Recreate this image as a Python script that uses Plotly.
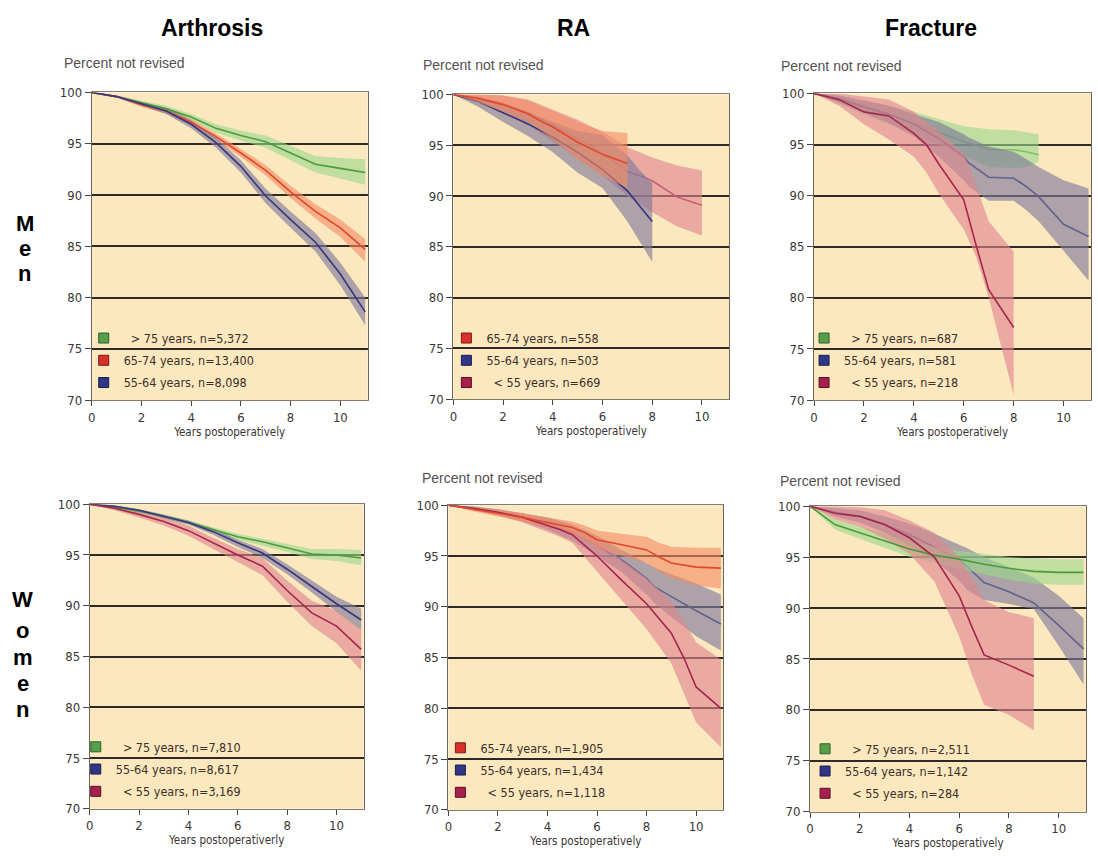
import plotly.graph_objects as go

# ---------------- data ----------------
YEARS_0_11 = [0, 1, 2, 3, 4, 5, 6, 7, 8, 9, 10, 11]

# Men - Arthrosis
MA_GT75_X = YEARS_0_11
MA_GT75 = [100, 99.6, 99.0, 98.4, 97.6, 96.5, 95.8, 95.2, 94.1, 93.0, 92.6, 92.2]
MA_GT75_LO = [100, 99.5, 98.8, 98.1, 97.3, 96.1, 95.3, 94.6, 93.4, 92.2, 91.6, 91.0]
MA_GT75_HI = [100, 99.7, 99.2, 98.7, 97.9, 96.9, 96.3, 95.8, 94.8, 93.8, 93.6, 93.5]
MA_6574_X = YEARS_0_11
MA_6574 = [100, 99.6, 98.8, 98.2, 97.1, 95.7, 94.1, 92.4, 90.3, 88.4, 86.8, 84.7]
MA_6574_LO = [100, 99.5, 98.6, 97.9, 96.8, 95.4, 93.7, 91.9, 89.7, 87.7, 85.9, 83.5]
MA_6574_HI = [100, 99.7, 99.0, 98.5, 97.4, 96.0, 94.5, 92.9, 90.9, 89.1, 87.6, 85.7]
MA_5564_X = YEARS_0_11
MA_5564 = [100, 99.6, 98.9, 98.2, 96.9, 95.1, 92.8, 89.9, 87.6, 85.4, 82.3, 78.6]
MA_5564_LO = [100, 99.5, 98.7, 97.9, 96.5, 94.6, 92.2, 89.2, 86.8, 84.5, 81.2, 77.3]
MA_5564_HI = [100, 99.7, 99.1, 98.5, 97.3, 95.6, 93.4, 90.6, 88.4, 86.3, 83.4, 80.0]

# Men - RA
MR_6574_X = [0, 1, 2, 3, 3.5, 4, 5, 5.5, 6, 7]
MR_6574 = [100, 99.6, 99.0, 98.1, 97.4, 96.8, 95.3, 94.7, 94.1, 93.2]
MR_6574_LO = [100, 99.2, 98.3, 97.3, 96.5, 95.6, 93.6, 92.8, 92.0, 90.8]
MR_6574_HI = [100, 100, 99.9, 99.4, 98.9, 98.4, 97.3, 96.8, 96.4, 96.2]
MR_5564_X = [0, 1, 2, 3, 4, 5, 6, 7, 7.5, 8]
MR_5564 = [100, 99.3, 98.2, 97.1, 95.8, 94.3, 92.6, 90.5, 89.0, 87.5]
MR_5564_LO = [100, 98.8, 97.3, 95.9, 94.3, 92.3, 90.8, 87.5, 85.5, 83.5]
MR_5564_HI = [100, 99.7, 99.0, 98.2, 97.3, 96.4, 96.0, 94.0, 92.5, 91.3]
MR_LT55_X = [0, 1, 2, 3, 4, 5, 6, 7, 7.5, 8, 9, 10]
MR_LT55 = [100, 99.7, 99.1, 98.2, 97.0, 95.6, 94.2, 92.4, 92.0, 91.5, 89.9, 89.1]
MR_LT55_LO = [100, 99.2, 98.2, 97.0, 95.4, 93.7, 92.0, 90.0, 89.2, 88.4, 87.0, 86.1]
MR_LT55_HI = [100, 100, 99.9, 99.5, 98.5, 97.5, 96.3, 94.8, 94.3, 93.8, 93.0, 92.5]

# Men - Fracture
MF_GT75_X = [0, 1, 2, 3, 4, 5, 6, 7, 8, 8.5, 9]
MF_GT75 = [100, 99.4, 98.6, 97.9, 97.1, 96.2, 95.3, 94.5, 94.5, 94.3, 94.0]
MF_GT75_LO = [100, 99.0, 97.9, 97.0, 96.0, 95.0, 93.9, 92.8, 92.7, 92.8, 93.3]
MF_GT75_HI = [100, 99.8, 99.3, 98.8, 98.2, 97.5, 96.8, 96.5, 96.4, 96.2, 96.0]
MF_5564_X = [0, 1, 2, 3, 4, 5, 6, 6.2, 7, 8, 8.5, 9, 10, 11]
MF_5564 = [100, 99.5, 98.7, 98.0, 97.0, 95.6, 93.8, 93.2, 91.8, 91.7, 90.9, 89.9, 87.2, 86.0]
MF_5564_LO = [100, 99.1, 98.1, 97.1, 95.8, 93.8, 91.5, 90.9, 89.5, 89.5, 88.6, 87.5, 84.6, 81.7]
MF_5564_HI = [100, 99.8, 99.3, 98.8, 98.0, 97.2, 96.0, 95.7, 94.8, 94.3, 93.6, 92.8, 91.5, 90.7]
MF_LT55_X = [0, 1, 2, 3, 4, 4.5, 5, 6, 6.5, 7, 8]
MF_LT55 = [100, 99.4, 98.2, 97.8, 96.1, 95.0, 93.1, 89.6, 85.1, 80.8, 77.1]
MF_LT55_LO = [100, 98.8, 97.0, 95.5, 93.8, 92.3, 90.2, 86.7, 84.0, 80.0, 70.5]
MF_LT55_HI = [100, 100, 99.7, 99.4, 98.2, 97.2, 96.3, 94.1, 91.0, 87.5, 84.5]

# Women - Arthrosis
WA_GT75_X = YEARS_0_11
WA_GT75 = [100, 99.7, 99.3, 98.8, 98.2, 97.5, 96.8, 96.3, 95.7, 95.1, 95.0, 94.7]
WA_GT75_LO = [100, 99.6, 99.1, 98.6, 98.0, 97.2, 96.5, 95.9, 95.3, 94.6, 94.4, 94.0]
WA_GT75_HI = [100, 99.8, 99.5, 99.0, 98.4, 97.7, 97.1, 96.6, 96.1, 95.6, 95.6, 95.5]
WA_5564_X = YEARS_0_11
WA_5564 = [100, 99.8, 99.4, 98.8, 98.2, 97.3, 96.2, 95.2, 93.6, 91.9, 90.2, 88.6]
WA_5564_LO = [100, 99.7, 99.3, 98.6, 98.0, 97.0, 95.8, 94.7, 93.1, 91.3, 89.4, 87.6]
WA_5564_HI = [100, 99.9, 99.5, 99.0, 98.4, 97.6, 96.5, 95.6, 94.1, 92.5, 90.9, 89.7]
WA_LT55_X = YEARS_0_11
WA_LT55 = [100, 99.6, 99.0, 98.3, 97.4, 96.2, 95.0, 93.9, 91.5, 89.3, 88.0, 85.7]
WA_LT55_LO = [100, 99.4, 98.7, 97.9, 96.9, 95.6, 94.3, 93.0, 90.4, 88.0, 86.3, 83.6]
WA_LT55_HI = [100, 99.8, 99.3, 98.7, 97.9, 96.7, 95.6, 94.7, 92.5, 90.5, 89.5, 87.6]

# Women - RA
WR_6574_X = [0, 1, 2, 3, 4, 5, 5.5, 6, 7, 8, 8.5, 9, 10, 11]
WR_6574 = [100, 99.6, 99.2, 98.8, 98.3, 97.8, 97.3, 96.6, 96.1, 95.6, 94.9, 94.3, 93.9, 93.8]
WR_6574_LO = [100, 99.4, 98.9, 98.4, 97.8, 97.2, 96.6, 95.8, 95.0, 94.3, 93.5, 92.8, 92.1, 91.8]
WR_6574_HI = [100, 99.8, 99.5, 99.2, 98.8, 98.4, 98.0, 97.5, 97.2, 96.9, 96.3, 95.9, 95.8, 95.8]
WR_5564_X = [0, 1, 2, 3, 4, 5, 6, 7, 8, 8.3, 9, 10, 11]
WR_5564 = [100, 99.7, 99.3, 98.8, 98.2, 97.3, 96.0, 94.6, 92.8, 92.0, 91.0, 89.6, 88.3]
WR_5564_LO = [100, 99.5, 99.0, 98.4, 97.6, 96.5, 95.0, 93.4, 91.2, 90.4, 89.0, 87.1, 85.7]
WR_5564_HI = [100, 99.9, 99.6, 99.2, 98.8, 98.1, 97.0, 95.6, 94.3, 93.9, 93.2, 92.3, 91.2]
WR_LT55_X = [0, 1, 2, 3, 4, 4.5, 5, 6, 7, 8, 9, 9.5, 10, 11]
WR_LT55 = [100, 99.7, 99.3, 98.8, 98.0, 97.6, 97.1, 95.0, 92.6, 90.3, 87.4, 85.0, 82.1, 80.0]
WR_LT55_LO = [100, 99.5, 99.0, 98.3, 97.4, 96.9, 96.3, 93.5, 90.6, 87.8, 84.4, 81.5, 78.6, 76.2]
WR_LT55_HI = [100, 99.8, 99.6, 99.2, 98.5, 98.2, 97.9, 96.6, 94.6, 92.8, 90.5, 88.6, 86.5, 84.8]

# Women - Fracture
WF_GT75_X = YEARS_0_11
WF_GT75 = [100, 98.2, 97.4, 96.6, 95.8, 95.2, 94.8, 94.3, 93.9, 93.6, 93.5, 93.5]
WF_GT75_LO = [100, 97.7, 96.8, 95.9, 95.0, 94.4, 93.9, 93.3, 92.8, 92.4, 92.3, 92.3]
WF_GT75_HI = [100, 98.7, 98.0, 97.3, 96.6, 96.0, 95.6, 95.3, 95.0, 94.9, 94.8, 94.8]
WF_5564_X = [0, 1, 2, 3, 4, 5, 6, 6.3, 7, 8, 9, 10, 11]
WF_5564 = [100, 99.4, 99.0, 98.2, 97.2, 96.0, 94.8, 94.1, 92.5, 91.6, 90.5, 88.3, 86.0]
WF_5564_LO = [100, 99.0, 98.4, 97.4, 96.1, 94.7, 92.7, 91.8, 90.8, 90.4, 89.9, 86.3, 82.5]
WF_5564_HI = [100, 99.8, 99.6, 99.0, 98.3, 97.3, 96.2, 95.9, 95.0, 94.0, 93.0, 91.2, 89.0]
WF_LT55_X = [0, 1, 2, 3, 4, 5, 6, 6.5, 7, 8, 9]
WF_LT55 = [100, 99.3, 99.0, 98.2, 96.9, 95.0, 91.2, 88.2, 85.4, 84.4, 83.3]
WF_LT55_LO = [100, 98.7, 98.0, 96.8, 95.3, 92.6, 87.2, 83.5, 80.5, 79.5, 78.0]
WF_LT55_HI = [100, 100, 99.9, 99.6, 98.6, 97.4, 95.0, 93.0, 90.8, 89.6, 89.0]

# Labels
COLUMN_TITLES = ["Arthrosis", "RA", "Fracture"]
ROW_TITLES = ["Men", "Women"]
Y_TICKS = [70, 75, 80, 85, 90, 95, 100]
Y_GRID = [75, 80, 85, 90, 95]
X_TICKS = [0, 2, 4, 6, 8, 10]

LEG_MA = ["\u00a0\u00a0> 75 years, n=5,372", "65-74 years, n=13,400", "55-64 years, n=8,098"]
LEG_MR = ["65-74 years, n=558", "55-64 years, n=503", "\u00a0\u00a0< 55 years, n=669"]
LEG_MF = ["\u00a0\u00a0> 75 years, n=687", "55-64 years, n=581", "\u00a0\u00a0< 55 years, n=218"]
LEG_WA = ["\u00a0\u00a0> 75 years, n=7,810", "55-64 years, n=8,617", "\u00a0\u00a0< 55 years, n=3,169"]
LEG_WR = ["65-74 years, n=1,905", "55-64 years, n=1,434", "\u00a0\u00a0< 55 years, n=1,118"]
LEG_WF = ["\u00a0\u00a0> 75 years, n=2,511", "55-64 years, n=1,142", "\u00a0\u00a0< 55 years, n=284"]

X_TITLES = ["Years postoperatively", "Years postoperatively", "Years postoperatively",
            "Years postoperativerly", "Years postoperatively", "Years postoperatively"]

# ---------------- styles ----------------
STYLE = {
    "gt75": dict(line="#4c9a3e", fill="rgba(153,217,138,0.62)", sw="#55a04a", swl="#2e5e28"),
    "6574": dict(line="#e2472b", fill="rgba(242,140,100,0.62)", sw="#d8302a", swl="#7a1a15"),
    "5564": dict(line="#36367f", fill="rgba(126,122,154,0.64)", sw="#2f3688", swl="#1a1d4a"),
    "lt55": dict(line="#a5264c", fill="rgba(224,132,142,0.62)", sw="#a81f4d", swl="#5a1028"),
}

NARROW = "Liberation Sans Narrow, DejaVu Sans Condensed, Arial Narrow, sans-serif"
ARIAL = "Liberation Sans, Arial, Helvetica, sans-serif"
BG = "#fbe8bf"

W, H = 1098, 865

# panel rectangles in pixels: left, top, right, bottom
RECTS = [(88, 87, 365, 400), (451, 89, 728, 399), (813, 88, 1091, 400),
         (86, 506, 361, 816), (446, 507, 722, 817), (809, 508, 1086, 819)]

PANELS = [
    dict(series=[("gt75", MA_GT75_X, MA_GT75, MA_GT75_LO, MA_GT75_HI, LEG_MA[0]),
                 ("6574", MA_6574_X, MA_6574, MA_6574_LO, MA_6574_HI, LEG_MA[1]),
                 ("5564", MA_5564_X, MA_5564, MA_5564_LO, MA_5564_HI, LEG_MA[2])],
         draw=["band:gt75", "band:6574", "band:5564", "line:gt75", "line:6574", "line:5564"]),
    dict(series=[("6574", MR_6574_X, MR_6574, MR_6574_LO, MR_6574_HI, LEG_MR[0]),
                 ("5564", MR_5564_X, MR_5564, MR_5564_LO, MR_5564_HI, LEG_MR[1]),
                 ("lt55", MR_LT55_X, MR_LT55, MR_LT55_LO, MR_LT55_HI, LEG_MR[2])],
         draw=["line:lt55", "band:lt55", "band:5564", "line:5564", "band:6574", "line:6574"]),
    dict(series=[("gt75", MF_GT75_X, MF_GT75, MF_GT75_LO, MF_GT75_HI, LEG_MF[0]),
                 ("5564", MF_5564_X, MF_5564, MF_5564_LO, MF_5564_HI, LEG_MF[1]),
                 ("lt55", MF_LT55_X, MF_LT55, MF_LT55_LO, MF_LT55_HI, LEG_MF[2])],
         draw=["line:gt75", "band:gt75", "line:5564", "band:5564", "band:lt55", "line:lt55"]),
    dict(series=[("gt75", WA_GT75_X, WA_GT75, WA_GT75_LO, WA_GT75_HI, LEG_WA[0]),
                 ("5564", WA_5564_X, WA_5564, WA_5564_LO, WA_5564_HI, LEG_WA[1]),
                 ("lt55", WA_LT55_X, WA_LT55, WA_LT55_LO, WA_LT55_HI, LEG_WA[2])],
         draw=["band:gt75", "band:5564", "band:lt55", "line:gt75", "line:5564", "line:lt55"]),
    dict(series=[("6574", WR_6574_X, WR_6574, WR_6574_LO, WR_6574_HI, LEG_WR[0]),
                 ("5564", WR_5564_X, WR_5564, WR_5564_LO, WR_5564_HI, LEG_WR[1]),
                 ("lt55", WR_LT55_X, WR_LT55, WR_LT55_LO, WR_LT55_HI, LEG_WR[2])],
         draw=["line:5564", "band:5564", "band:lt55", "band:6574", "line:lt55", "line:6574"]),
    dict(series=[("gt75", WF_GT75_X, WF_GT75, WF_GT75_LO, WF_GT75_HI, LEG_WF[0]),
                 ("5564", WF_5564_X, WF_5564, WF_5564_LO, WF_5564_HI, LEG_WF[1]),
                 ("lt55", WF_LT55_X, WF_LT55, WF_LT55_LO, WF_LT55_HI, LEG_WF[2])],
         draw=["line:5564", "band:5564", "band:gt75", "band:lt55", "line:gt75", "line:lt55"]),
]

# legend boxes: left, top in pixels
LEG_POS = [(80, 322), (444, 322), (803, 322), (72, 738), (438, 739), (804, 740)]

fig = go.Figure()

for i, p in enumerate(PANELS):
    n = i + 1
    xa = "x" if n == 1 else f"x{n}"
    ya = "y" if n == 1 else f"y{n}"
    leg = "legend" if n == 1 else f"legend{n}"
    ser = {s[0]: s for s in p["series"]}

    for item in p["draw"]:
        kind, key = item.split(":")
        k, xs, m, lo, hi, name = ser[key]
        st = STYLE[k]
        if kind == "line":
            fig.add_trace(go.Scatter(x=xs, y=m, mode="lines", xaxis=xa, yaxis=ya,
                                     line=dict(color=st["line"], width=1.6),
                                     showlegend=False, hoverinfo="skip"))
        else:
            fig.add_trace(go.Scatter(x=xs, y=hi, mode="lines", xaxis=xa, yaxis=ya,
                                     line=dict(width=0, color=st["fill"]),
                                     showlegend=False, hoverinfo="skip"))
            fig.add_trace(go.Scatter(x=xs, y=lo, mode="lines", xaxis=xa, yaxis=ya,
                                     line=dict(width=0, color=st["fill"]),
                                     fill="tonexty", fillcolor=st["fill"],
                                     showlegend=False, hoverinfo="skip"))

    # legend entries
    for j, (k, xs, m, lo, hi, name) in enumerate(p["series"]):
        fig.add_trace(go.Scatter(x=[None], y=[None], mode="markers", xaxis=xa, yaxis=ya,
                                 marker=dict(symbol="square", size=10, color=STYLE[k]["sw"],
                                             line=dict(color=STYLE[k]["swl"], width=1)),
                                 name=name, legend=leg, legendgroup=f"{n}_{j}",
                                 showlegend=True))

    l, t, r, b = RECTS[i]
    fig.layout[f"xaxis{n if n > 1 else ''}"] = dict(
        domain=[l / W, r / W], anchor=ya, range=[0, 11.1],
        tickmode="array", tickvals=X_TICKS, ticks="outside", ticklen=5, tickwidth=1,
        tickcolor="#4a4440", showline=True, mirror=True, linecolor="#857a70", linewidth=1,
        showgrid=False, zeroline=False,
        tickfont=dict(family=NARROW, size=13, color="#3a3633"),
        title=dict(text=X_TITLES[i], font=dict(family=NARROW, size=11.5, color="#3a3633"),
                   standoff=3),
    )
    fig.layout[f"yaxis{n if n > 1 else ''}"] = dict(
        domain=[1 - b / H, 1 - t / H], anchor=xa, range=[70, 100],
        tickmode="array", tickvals=Y_TICKS, ticks="outside", ticklen=6, tickwidth=1.2,
        tickcolor="#4a4440", showline=True, mirror=True, linecolor="#6e655d", linewidth=1,
        showgrid=False, zeroline=False,
        minor=dict(tickmode="array", tickvals=Y_GRID, showgrid=True,
                   gridcolor="#2e2926", gridwidth=1.7),
        tickfont=dict(family=NARROW, size=13, color="#3a3633"),
    )
    lx, ly = LEG_POS[i]
    fig.layout[leg] = dict(
        x=lx / W, y=1 - ly / H, xanchor="left", yanchor="top",
        bgcolor="rgba(0,0,0,0)", borderwidth=0, itemwidth=30,
        traceorder="grouped", tracegroupgap=3,
        font=dict(family=NARROW, size=12.5, color="#3b302b"),
    )

annotations = []
# column titles
for txt, cx in zip(COLUMN_TITLES, [209, 572, 930]):
    annotations.append(dict(text=f"<b>{txt}</b>", x=cx / W, y=1 - 21 / H, xref="paper", yref="paper",
                            xanchor="center", yanchor="middle", showarrow=False,
                            font=dict(family=ARIAL, size=23, color="#000000")))
# "Percent not revised"
for px, py in [(58, 57), (419, 59), (778, 60), (418, 479), (777, 482)]:
    annotations.append(dict(text="Percent not revised", x=px / W, y=1 - py / H, xref="paper", yref="paper",
                            xanchor="left", yanchor="middle", showarrow=False,
                            font=dict(family=ARIAL, size=14, color="#555050")))
# row titles, one letter per line
for word, ys, cx in [(ROW_TITLES[0], [220, 246, 271], 21), (ROW_TITLES[1], [603, 635, 662, 688, 715], 19)]:
    for ch, yy in zip(word, ys):
        annotations.append(dict(text=f"<b>{ch}</b>", x=cx / W, y=1 - yy / H, xref="paper", yref="paper",
                                xanchor="center", yanchor="middle", showarrow=False,
                                font=dict(family=ARIAL, size=22, color="#000000")))

fig.update_layout(
    width=W, height=H, margin=dict(l=0, r=0, t=0, b=0),
    paper_bgcolor="white", plot_bgcolor=BG,
    annotations=annotations, showlegend=True,
)

fig.write_html("out.html")
